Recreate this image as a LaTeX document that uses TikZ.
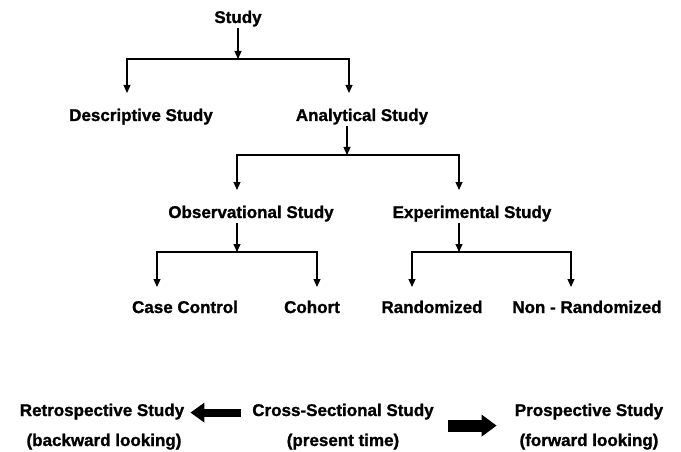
\documentclass[tikz,border=0pt]{standalone}
\usepackage{fontspec}
\setmainfont{Liberation Sans}[BoldFeatures={FakeBold=1.2}]
\usetikzlibrary{arrows.meta}

\begin{document}
\begin{tikzpicture}[x=1pt,y=-1pt,
  lbl/.style={font=\fontsize{17}{20}\selectfont\bfseries,inner sep=1pt,
              anchor=base},
  arr/.style={-{Triangle[length=8pt,width=7pt]},line width=1.1pt},
  fat/.style={-{Triangle[length=14pt,width=19pt]},line width=8pt}]
\useasboundingbox (0,0) rectangle (681,452);
% tree of study types
\node[lbl] (study) at (238,23) {Study};
\node[lbl] (desc) at (141,121) {Descriptive Study};
\node[lbl] (ana) at (362,121) {Analytical Study};
\node[lbl] (obs) at (251,218) {Observational Study};
\node[lbl] (exp) at (472,218) {Experimental Study};
\node[lbl] (cc) at (185,313) {Case Control};
\node[lbl] (coh) at (312,313) {Cohort};
\node[lbl] (rnd) at (432,313) {Randomized};
\node[lbl] (nrnd) at (587,313) {Non - Randomized};
\coordinate (j1) at (238,59);
\coordinate (d1) at (127,93);
\coordinate (a1) at (349,93);
\coordinate (j2) at (347,155);
\coordinate (o1) at (237,190);
\coordinate (e1) at (459,190);
\coordinate (j3) at (237,252);
\coordinate (c1) at (157,287);
\coordinate (h1) at (317,287);
\coordinate (j4) at (459,252);
\coordinate (r1) at (412,287);
\coordinate (n1) at (571,287);
\draw[arr] (study) -- (j1);
\draw[arr] (j1) -| (d1);
\draw[arr] (j1) -| (a1);
\draw[arr] (ana.south -| j2) -- (j2);
\draw[arr] (j2) -| (o1);
\draw[arr] (j2) -| (e1);
\draw[arr] (obs.south -| j3) -- (j3);
\draw[arr] (j3) -| (c1);
\draw[arr] (j3) -| (h1);
\draw[arr] (exp.south -| j4) -- (j4);
\draw[arr] (j4) -| (r1);
\draw[arr] (j4) -| (n1);
% time direction
\node[lbl] (retro) at (102,416) {Retrospective Study};
\node[lbl] (back) at (104,446) {(backward looking)};
\node[lbl] (cs) at (343,416) {Cross-Sectional Study};
\node[lbl] (pres) at (343,446) {(present time)};
\node[lbl] (pro) at (589,416) {Prospective Study};
\node[lbl] (fwd) at (589,446) {(forward looking)};
\draw[fat,shorten <=10pt,shorten >=5pt] ([yshift=-1pt]cs.west) -- ([yshift=-1pt]retro.east);
\draw[fat,line width=12pt,-{Triangle[length=15pt,width=21pt]},
  shorten <=13pt,shorten >=17pt] ([yshift=-14pt]cs.east) -- ([yshift=-14pt]pro.west);
\end{tikzpicture}
\end{document}
